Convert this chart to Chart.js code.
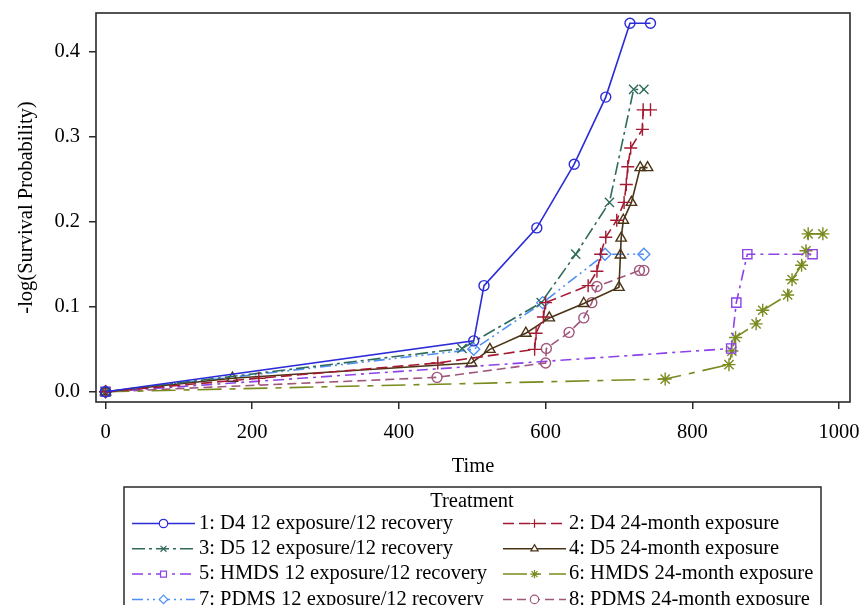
<!DOCTYPE html>
<html>
<head>
<meta charset="utf-8">
<script src="https://cdn.jsdelivr.net/npm/chart.js@4.4.1/dist/chart.umd.min.js"></script>
<style>
  html, body { margin: 0; padding: 0; background: #fff; }
  #survChart { display: block; }
</style>
</head>
<body>
<canvas id="survChart" width="859" height="605"></canvas>
<script>
// values: time and -log(survival probability) per treatment
const seriesNames = [
  '1: D4 12 exposure/12 recovery', '2: D4 24-month exposure',
  '3: D5 12 exposure/12 recovery', '4: D5 24-month exposure',
  '5: HMDS 12 exposure/12 recovery', '6: HMDS 24-month exposure',
  '7: PDMS 12 exposure/12 recovery', '8: PDMS 24-month exposure'
];

const d4Rec_t = [0, 502, 516, 588, 639, 682, 715, 743];
const d4Rec_v = [0, 0.060, 0.125, 0.193, 0.268, 0.347, 0.434, 0.434];

const d4Exp_t = [0, 209, 453, 585, 587, 597, 600, 658, 670, 675, 682, 697, 707, 710, 712, 716, 732, 733, 743];
const d4Exp_v = [0, 0.016, 0.034, 0.050, 0.069, 0.088, 0.105, 0.125, 0.142, 0.162, 0.182, 0.202, 0.223, 0.244, 0.265, 0.287, 0.309, 0.332, 0.332];

const d5Rec_t = [0, 486, 594, 641, 687, 720, 734];
const d5Rec_v = [0, 0.051, 0.105, 0.162, 0.223, 0.356, 0.356];

const d5Exp_t = [0, 173, 499, 524, 573, 605, 652, 700, 702, 703, 706, 717, 729, 739];
const d5Exp_v = [0, 0.016, 0.034, 0.050, 0.069, 0.087, 0.104, 0.123, 0.161, 0.181, 0.202, 0.223, 0.264, 0.264];

const hmdsRec_t = [0, 853, 860, 875, 964];
const hmdsRec_v = [0, 0.051, 0.105, 0.162, 0.162];

const hmdsExp_t = [0, 763, 850, 854, 859, 887, 896, 930, 936, 949, 955, 958, 978];
const hmdsExp_v = [0, 0.015, 0.032, 0.048, 0.064, 0.080, 0.096, 0.114, 0.132, 0.149, 0.166, 0.186, 0.186];

const pdmsRec_t = [0, 502, 596, 681, 734];
const pdmsRec_v = [0, 0.050, 0.105, 0.162, 0.162];

const pdmsExp_t = [0, 452, 600, 601, 632, 652, 663, 670, 728, 734];
const pdmsExp_v = [0, 0.017, 0.034, 0.051, 0.070, 0.087, 0.105, 0.124, 0.143, 0.143];

const xTicks = [0, 200, 400, 600, 800, 1000];
const yTicks = [0, 0.1, 0.2, 0.3, 0.4];

const allTimes = [d4Rec_t, d4Exp_t, d5Rec_t, d5Exp_t, hmdsRec_t, hmdsExp_t, pdmsRec_t, pdmsExp_t];
const allVals = [d4Rec_v, d4Exp_v, d5Rec_v, d5Exp_v, hmdsRec_v, hmdsExp_v, pdmsRec_v, pdmsExp_v];

// look of each line
const styles = [
  { color: '#2b2bd8', dash: [], marker: 'circle', r: 5 },
  { color: '#a31a32', dash: [11, 5], marker: 'cross', r: 6.5 },
  { color: '#2f6b5b', dash: [13, 4, 3, 4], marker: 'crossRot', r: 6.5 },
  { color: '#4b3416', dash: [], marker: 'triangle', r: 6 },
  { color: '#8d42e8', dash: [11, 5, 3, 5], marker: 'rect', r: 6.5 },
  { color: '#7b8a1e', dash: [24, 8, 6, 8], marker: 'star', r: 6.5 },
  { color: '#4e8ff7', dash: [11, 4, 2, 4, 2, 4], marker: 'rectRot', r: 6 },
  { color: '#a0577c', dash: [9, 5], marker: 'circle', r: 5 }
];

const datasets = seriesNames.map(function(name, i) {
  const st = styles[i];
  return {
    label: name,
    data: allTimes[i].map(function(t, k) { return { x: t, y: allVals[i][k] }; }),
    showLine: true,
    borderColor: st.color,
    borderWidth: 1.6,
    borderDash: st.dash,
    pointStyle: st.marker,
    pointRadius: st.r,
    pointBorderWidth: 1.4,
    pointBorderColor: st.color,
    pointBackgroundColor: 'rgba(255,255,255,0)',
    tension: 0
  };
});

Chart.defaults.font.family = '"Liberation Serif", "Times New Roman", serif';
Chart.defaults.font.size = 20.5;
Chart.defaults.color = '#000';

// frame round the plot + the two-column legend underneath
const frameAndLegend = {
  id: 'frameAndLegend',
  afterDraw(chart) {
    const ctx = chart.ctx;
    const a = chart.chartArea;
    ctx.save();
    ctx.strokeStyle = '#2a2a2a';
    ctx.lineWidth = 1.6;
    ctx.setLineDash([]);
    ctx.strokeRect(a.left, a.top, a.right - a.left, a.bottom - a.top);

    // legend box
    ctx.lineWidth = 1.5;
    ctx.strokeRect(124, 487, 697, 140);
    ctx.fillStyle = '#000';
    ctx.font = '20.5px "Liberation Serif", "Times New Roman", serif';
    ctx.textAlign = 'center';
    ctx.textBaseline = 'middle';
    ctx.fillText('Treatment', 472, 502);

    const sampleX = [132, 503];
    const textX = [199, 569];
    chart.data.datasets.forEach(function(ds, i) {
      const col = i % 2, row = Math.floor(i / 2);
      const y = 523.5 + row * 25.3;
      const x0 = sampleX[col], x1 = x0 + 63;
      ctx.strokeStyle = ds.borderColor;
      ctx.lineWidth = 1.5;
      ctx.setLineDash(ds.borderDash);
      ctx.beginPath();
      ctx.moveTo(x0, y);
      ctx.lineTo(x1, y);
      ctx.stroke();
      ctx.setLineDash([]);
      ctx.fillStyle = '#fff';
      ctx.lineWidth = 1.2;
      Chart.helpers.drawPoint(ctx, { pointStyle: ds.pointStyle, radius: 4.2, rotation: 0, borderWidth: 1.2 }, (x0 + x1) / 2, y);
      ctx.fillStyle = '#000';
      ctx.textAlign = 'left';
      ctx.fillText(ds.label, textX[col], y);
    });
    ctx.restore();
  }
};

const ctx = document.getElementById('survChart').getContext('2d');

const survChart = new Chart(ctx, {
  type: 'scatter',
  data: { datasets: datasets },
  options: {
    responsive: false,
    animation: false,
    layout: { padding: { left: 0, top: 13, right: 9, bottom: 118 } },
    plugins: { legend: { display: false }, tooltip: { enabled: false } },
    scales: {
      x: {
        type: 'linear',
        min: -13,
        max: 1015,
        afterBuildTicks(scale) { scale.ticks = xTicks.map(function(v) { return { value: v }; }); },
        afterFit(scale) { scale.height = 85; scale.paddingLeft = 0; scale.paddingRight = 0; },
        ticks: { padding: 11, maxRotation: 0, autoSkip: false, callback: function(v) { return String(v); } },
        grid: { drawOnChartArea: false, drawTicks: true, tickLength: 7, color: '#2a2a2a', lineWidth: 1.5 },
        border: { display: false },
        title: { display: true, text: 'Time', padding: { top: 0, bottom: 8 } }
      },
      y: {
        type: 'linear',
        min: -0.012,
        max: 0.446,
        afterBuildTicks(scale) { scale.ticks = yTicks.map(function(v) { return { value: v }; }); },
        afterFit(scale) { scale.width = 96; scale.paddingTop = 0; scale.paddingBottom = 0; },
        ticks: { padding: 9, callback: function(v) { return v.toFixed(1); } },
        grid: { drawOnChartArea: false, drawTicks: true, tickLength: 7, color: '#2a2a2a', lineWidth: 1.5 },
        border: { display: false },
        title: { display: true, text: '-log(Survival Probability)', padding: { top: 14, bottom: 0 } }
      }
    }
  },
  plugins: [frameAndLegend]
});
</script>
</body>
</html>
